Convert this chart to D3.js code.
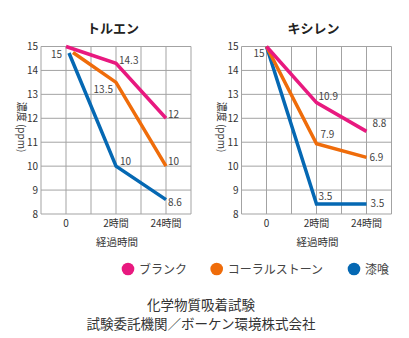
<!DOCTYPE html>
<html>
<head>
<meta charset="utf-8">
<script src="https://cdn.jsdelivr.net/npm/d3@7"></script>
<style>
  html, body { margin: 0; padding: 0; background: #fff; }
  svg { display: block; }
  text { font-family: "Noto Sans CJK JP", "Noto Sans", sans-serif; }
</style>
</head>
<body>
<svg id="chart" width="409" height="338"></svg>
<script>
// Elapsed-time categories on the x axis
const timepoints = ["0", "2時間", "24時間"];
// Concentration axis (ppm)
const yTickValues = [8, 9, 10, 11, 12, 13, 14, 15];

const seriesNames = ["ブランク", "コーラルストーン", "漆喰"];
const seriesColors = ["#e8197f", "#ef6c0a", "#0568b3"];

// トルエン concentration (ppm)
const tolueneBlank   = [15, 14.3, 12];
const tolueneCoral   = [15, 13.5, 10];
const tolueneShikkui = [15, 10, 8.6];

// キシレン concentration (ppm)
const xyleneBlank   = [15, 10.9, 8.8];
const xyleneCoral   = [15, 7.9, 6.9];
const xyleneShikkui = [15, 3.5, 3.5];

const footnote = ["化学物質吸着試験", "試験委託機関／ボーケン環境株式会社"];

const svg = d3.select("#chart");
const plotW = 150, plotTop = 46.5, plotBottom = 214;

const x = d3.scalePoint().domain(timepoints).range([0, plotW]).padding(0.5);
const y = d3.scaleLinear().domain([8, 15]).range([plotBottom, plotTop]);

// xylene readings are plotted on their own compressed value scale
const yXylene = d3.scaleLinear().domain([3.5, 15]).range([y(8.42), y(15)]);

const panels = [
  {
    title: "トルエン", left: 41, yTitleX: 18,
    series: [tolueneBlank, tolueneCoral, tolueneShikkui],
    vy: y,
    // start-point nudges that keep the three lines apart at 0
    startNudge: [[0, 0], [7, 6], [3, 6.5]],
    startLabel: { dx: -4, dy: 11 },
    labelOffsets: [
      [null, { dx: 3, dy: 1, anchor: "start" }, { dx: 2, dy: 0, anchor: "start" }],
      [null, { dx: -3, dy: 10.5, anchor: "end" }, { dx: 2, dy: -1.5, anchor: "start" }],
      [null, { dx: 4, dy: -1.5, anchor: "start" }, { dx: 2, dy: 6, anchor: "start" }]
    ]
  },
  {
    title: "キシレン", left: 241.5, yTitleX: 218,
    series: [xyleneBlank, xyleneCoral, xyleneShikkui],
    vy: yXylene,
    startNudge: [[0, 0], [0, 0], [0, 0]],
    startLabel: { dx: -2, dy: 10 },
    labelOffsets: [
      [null, { dx: 2, dy: -3, anchor: "start" }, { dx: 6, dy: -4, anchor: "start" }],
      [null, { dx: 4, dy: -6, anchor: "start" }, { dx: 3, dy: 3.5, anchor: "start" }],
      [null, { dx: 2, dy: -4, anchor: "start" }, { dx: 4, dy: 3.5, anchor: "start" }]
    ]
  }
];

const gridColor = "#a3a3a3";
const fmt = v => String(v);

panels.forEach(p => {
  const g = svg.append("g").attr("transform", `translate(${p.left},0)`);

  // grid: every category and every midpoint between them
  const step = x.step() / 2;
  const vLines = d3.range(0, plotW + 0.1, step);
  g.selectAll("line.v").data(vLines).join("line")
    .attr("x1", d => d).attr("x2", d => d)
    .attr("y1", plotTop).attr("y2", plotBottom)
    .attr("stroke", gridColor).attr("stroke-width", 1);
  g.selectAll("line.h").data(yTickValues).join("line")
    .attr("x1", 0).attr("x2", plotW)
    .attr("y1", d => y(d)).attr("y2", d => y(d))
    .attr("stroke", gridColor).attr("stroke-width", 1);

  // y tick labels
  g.selectAll("text.ytick").data(yTickValues).join("text")
    .attr("x", -3).attr("y", d => y(d) + 3.5)
    .attr("text-anchor", "end")
    .attr("font-size", 10).attr("fill", "#333")
    .text(d => d);

  // x tick labels
  g.selectAll("text.xtick").data(timepoints).join("text")
    .attr("x", d => x(d)).attr("y", 227)
    .attr("text-anchor", "middle")
    .attr("font-size", 10).attr("fill", "#333")
    .text(d => d);

  // axis titles
  g.append("text")
    .attr("x", plotW / 2 + 1).attr("y", 246)
    .attr("text-anchor", "middle")
    .attr("font-size", 10.5).attr("fill", "#333")
    .text("経過時間");
  svg.append("text")
    .attr("transform", `translate(${p.yTitleX},127) rotate(90)`)
    .attr("text-anchor", "middle")
    .attr("font-size", 10).attr("fill", "#333")
    .text("濃度 (ppm)");

  // panel title
  g.append("text")
    .attr("x", plotW / 2 - 3).attr("y", 33)
    .attr("text-anchor", "middle")
    .attr("font-size", 13).attr("font-weight", 700).attr("fill", "#222")
    .text(p.title);

  // series lines (blank drawn on top)
  const order = [2, 1, 0];
  order.forEach(si => {
    const vals = p.series[si];
    const pts = vals.map((v, i) => {
      const n = i === 0 ? p.startNudge[si] : [0, 0];
      return [x(timepoints[i]) + n[0], p.vy(v) + n[1]];
    });
    g.append("path")
      .attr("d", d3.line()(pts))
      .attr("fill", "none")
      .attr("stroke", seriesColors[si])
      .attr("stroke-width", 3.5)
      .attr("stroke-linejoin", "miter");
  });

  // value labels
  p.series.forEach((vals, si) => {
    vals.forEach((v, i) => {
      const o = p.labelOffsets[si][i];
      if (!o) return;
      g.append("text")
        .attr("x", x(timepoints[i]) + o.dx)
        .attr("y", p.vy(v) + o.dy)
        .attr("text-anchor", o.anchor)
        .attr("font-size", 10).attr("fill", "#444")
        .text(fmt(v));
    });
  });

  // shared starting value
  g.append("text")
    .attr("x", x(timepoints[0]) + p.startLabel.dx)
    .attr("y", p.vy(p.series[0][0]) + p.startLabel.dy)
    .attr("text-anchor", "end")
    .attr("font-size", 10).attr("fill", "#444")
    .text(fmt(p.series[0][0]));
});

// legend
const legendX = [128, 216.7, 354];
const legend = svg.append("g");
seriesNames.forEach((name, i) => {
  legend.append("circle")
    .attr("cx", legendX[i]).attr("cy", 269).attr("r", 6.3)
    .attr("fill", seriesColors[i]);
  legend.append("text")
    .attr("x", legendX[i] + 11).attr("y", 273.5)
    .attr("font-size", 12).attr("fill", "#444")
    .text(name);
});

// test note
svg.selectAll("text.note").data(footnote).join("text")
  .attr("x", 201).attr("y", (d, i) => 310 + i * 19)
  .attr("text-anchor", "middle")
  .attr("font-size", 13.5).attr("fill", "#333")
  .text(d => d);
</script>
</body>
</html>
